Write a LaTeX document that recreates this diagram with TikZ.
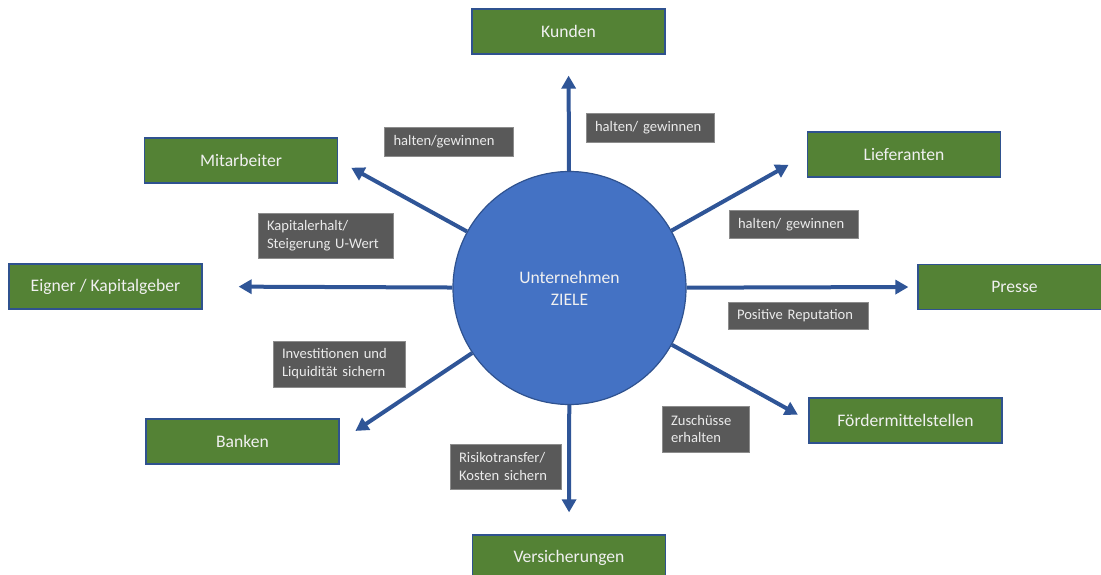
\documentclass[tikz,border=0pt]{standalone}
\usepackage{fontspec}
\setmainfont{Carlito}
\usepackage{xcolor}
\usepackage{tikz}
\usetikzlibrary{arrows.meta}

\definecolor{boxgreen}{HTML}{548235}
\definecolor{boxblue}{HTML}{2F528F}
\definecolor{zielblue}{HTML}{4472C4}
\definecolor{pfeilblue}{HTML}{2F5597}
\definecolor{taggray}{HTML}{595959}
\definecolor{tagedge}{HTML}{8C8C8C}

\tikzset{
  gruppe/.style={draw=boxblue, line width=1.2pt, fill=boxgreen, text=white!94!black,
    minimum width=193pt, minimum height=45pt, inner sep=0pt,
    font=\fontsize{17.6}{21}\selectfont},
  tag/.style={draw=tagedge, line width=0.8pt, fill=taggray, text=white!92!black,
    align=left, inner xsep=9pt, inner ysep=0pt,
    font=\fontsize{14.6}{17.8}\selectfont},
  pfeil/.style={draw=pfeilblue, line width=4pt, -{Triangle[length=13pt,width=14pt]}}
}

\begin{document}
\begin{tikzpicture}[x=1pt,y=-1pt]
            \useasboundingbox (0,0) rectangle (1101,575);

            \node[circle, draw=boxblue, line width=1.2pt, fill=zielblue, minimum size=233pt,
                  text=white!94!black, align=center, font=\fontsize{17.6}{22}\selectfont]
                  at (569.5,288) (ziel) {Unternehmen\\ZIELE};

            \node[gruppe] at (568.5,31.5) (kunden) {Kunden};
            \node[gruppe] at (904,154.5) (lieferanten) {Lieferanten};
            \node[gruppe] at (1014.5,287) (presse) {Presse};
            \node[gruppe] at (905.5,420.5) (foerder) {Fördermittelstellen};
            \node[gruppe] at (569,557.5) (versicherungen) {Versicherungen};
            \node[gruppe] at (242.5,441.5) (banken) {Banken};
            \node[gruppe] at (105.5,286.5) (eigner) {Eigner / Kapitalgeber};
            \node[gruppe] at (241,160.5) (mitarbeiter) {Mitarbeiter};

            \draw[pfeil, shorten >=21pt] (ziel) -- (kunden.south);
            \draw[pfeil, shorten >=21pt] (ziel) -- (lieferanten.west);
            \draw[pfeil, shorten >=9pt] (ziel) -- (presse.west);
            \draw[pfeil, shorten >=12pt] (ziel) -- (foerder.west);
            \draw[pfeil, shorten >=22pt] (ziel) -- (versicherungen.north);
            \draw[pfeil, shorten >=19pt] (ziel) -- (banken.east);
            \draw[pfeil, shorten >=36pt] (ziel) -- (eigner.east);
            \draw[pfeil, shorten >=15pt] (ziel) -- (mitarbeiter.east);

            \node[tag, text width=111pt, minimum height=29pt] at (449,142) (tmitarbeiter) {halten/gewinnen};
            \node[tag, text width=110pt, minimum height=29pt] at (650,127.5) (tkunden) {halten/ gewinnen};
            \node[tag, text width=111pt, minimum height=28pt] at (793.5,224.5) (tlieferanten) {halten/ gewinnen};
            \node[tag, text width=117pt, minimum height=45pt] at (325.5,235.5) (teigner) {Kapitalerhalt/\\Steigerung U-Wert};
            \node[tag, text width=114pt, minimum height=46pt] at (339,364) (tbanken) {Investitionen und\\Liquidität sichern};
            \node[tag, text width=122pt, minimum height=27pt] at (798,315.5) (tpresse) {Positive Reputation};
            \node[tag, text width=69pt, minimum height=46pt] at (705.5,429) (tfoerder) {Zuschüsse\\erhalten};
            \node[tag, text width=93pt, minimum height=45pt] at (505.5,466.5) (tversicherungen) {Risikotransfer/\\Kosten sichern};
        \end{tikzpicture}
\end{document}
